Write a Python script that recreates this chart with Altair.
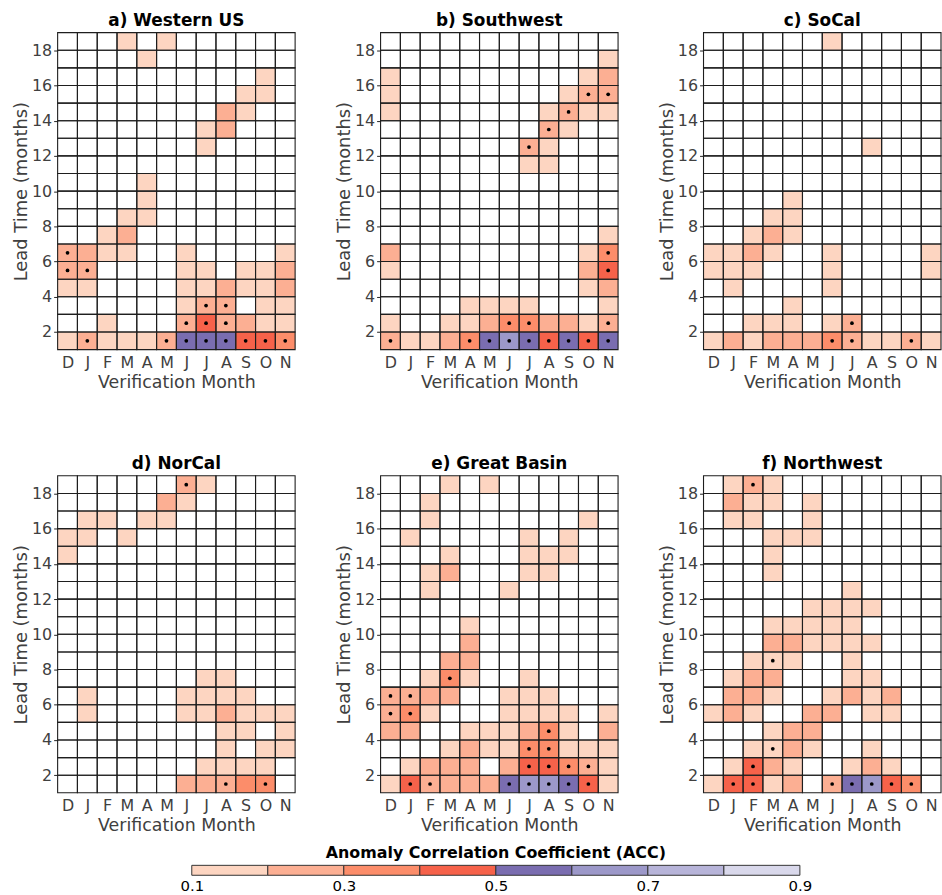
import json

import altair as alt
import pandas as pd

# Verification months (columns) and lead times (rows, listed from 18 down to 1)
MONTHS = ["D", "J", "F", "M", "A", "M", "J", "J", "A", "S", "O", "N"]
LEADS = list(range(18, 0, -1))

# ACC class of a cell: "." = below 0.1, "1".."8" = 0.1-0.2 ... 0.8-0.9
ACC_CLASS = {"1": 0.15, "2": 0.25, "3": 0.35, "4": 0.45,
             "5": 0.55, "6": 0.65, "7": 0.75, "8": 0.85}

# Colour classes of the ACC scale
ACC_BREAKS = [0.2, 0.3, 0.4, 0.5, 0.6, 0.7, 0.8]
ACC_COLORS = ["#fdd5c1", "#fcaf93", "#fc8d6a", "#f6624a",
              "#7a6db0", "#9c98c9", "#b7b4d9", "#d9d8eb"]
CBAR_LO = [0.1, 0.2, 0.3, 0.4, 0.5, 0.6, 0.7, 0.8]
CBAR_HI = [0.2, 0.3, 0.4, 0.5, 0.6, 0.7, 0.8, 0.9]
CBAR_TICKS = [0.1, 0.3, 0.5, 0.7, 0.9]

WESTERN_US = [
    "...1.1......", "....1.......", "..........1.", ".........11.",
    "........21..", ".......12...", ".......1....", "............",
    "....1.......", "....1.......", "...11.......", "..12........",
    "2211..1....1", "22....11.112", "11....112112", "......122.11",
    "..1...242211", "121112555443",
]
WESTERN_US_SIG = [(0, 6), (0, 5), (1, 5), (7, 3), (8, 3), (6, 2), (7, 2), (8, 2),
                  (1, 1), (5, 1), (6, 1), (7, 1), (8, 1), (9, 1), (10, 1), (11, 1)]

SOUTHWEST = [
    "............", "...........1", "1.........12", "1........122",
    "1.......1211", "........21..", ".......21...", ".......11...",
    "............", "............", "............", "...........1",
    "2.........13", "1.........24", "..........12", "....1111...1",
    "1..112332212", "211235654545",
]
SOUTHWEST_SIG = [(10, 15), (11, 15), (9, 14), (8, 13), (7, 12), (11, 6), (11, 5),
                 (6, 2), (7, 2), (11, 2), (0, 1), (4, 1), (5, 1), (6, 1), (7, 1),
                 (8, 1), (9, 1), (10, 1), (11, 1)]

SOCAL = [
    "......1.....", "............", "............", "............",
    "............", "............", "........1...", "............",
    "............", "....1.......", "...11.......", "..121.......",
    "1121..1....1", "111...1....1", ".1....1.....", "....1.......",
    "..111.12....", "121222321121",
]
SOCAL_SIG = [(7, 2), (6, 1), (7, 1), (10, 1)]

NORCAL = [
    "......21....", ".....21.....", ".11.11......", "11.1........",
    "1...........", "............", "............", "............",
    "............", "............", "............", ".......11...",
    ".1....1111..", ".1....112111", "........11.1", "........1.11",
    ".......1111.", "......22233.",
]
NORCAL_SIG = [(6, 18), (8, 1), (10, 1)]

GREAT_BASIN = [
    "...1.1......", "..1.........", "..1.......1.", ".1.....1.1..",
    "...1...111..", "..12...11...", "..1...1.....", "............",
    "....1.......", "....2.......", "...22.......", "..131..1....",
    "2222..111...", "231...1111.1", "22..111231.2", "...121133111",
    ".1222.244321", "142222566541",
]
GREAT_BASIN_SIG = [(3, 7), (0, 6), (1, 6), (0, 5), (1, 5), (8, 4), (7, 3), (8, 3),
                   (7, 2), (8, 2), (9, 2), (10, 2), (1, 1), (2, 1), (6, 1), (7, 1),
                   (8, 1), (9, 1), (10, 1)]

NORTHWEST = [
    ".121........", ".211.1......", ".11..1......", "...111......",
    "...1........", "...1........", ".......1....", ".....1111...",
    "...11111....", "...221111...", "..111..1....", ".122...11...",
    ".221..1212..", "121..22.11..", "...122......", "..1121..1...",
    ".1421..121..", "14412.25643.",
]
NORTHWEST_SIG = [(2, 18), (3, 8), (3, 3), (2, 2), (1, 1), (2, 1), (6, 1), (7, 1),
                 (8, 1), (9, 1), (10, 1)]

FONT = "DejaVu Sans"
TEXT_GREY = "#404040"
PANEL_W, PANEL_H = 239, 319

color_scale = alt.Scale(type="threshold", domain=ACC_BREAKS, range=ACC_COLORS)
x_scale = alt.Scale(domain=[0, 12], nice=False, zero=False)
y_scale = alt.Scale(domain=[1, 19], nice=False, zero=False)

x_axis = alt.Axis(
    values=[i + 0.5 for i in range(12)],
    labelExpr=f"{json.dumps(MONTHS)}[floor(datum.value)]",
    ticks=False, domain=False, grid=False,
    labelFont=FONT, labelFontSize=16, labelColor=TEXT_GREY, labelPadding=5,
    labelAngle=0,
    titleFont=FONT, titleFontSize=17.5, titleColor=TEXT_GREY,
    titleFontWeight="normal", titlePadding=3,
)
y_axis = alt.Axis(
    values=list(range(2, 19, 2)),
    tickSize=4, tickColor="#222222", domain=False, grid=False,
    labelFont=FONT, labelFontSize=16, labelColor=TEXT_GREY, labelPadding=2,
    titleFont=FONT, titleFontSize=18, titleColor=TEXT_GREY,
    titleFontWeight="normal", titlePadding=1,
)


def enc_x(field):
    return alt.X(f"{field}:Q", scale=x_scale, axis=x_axis, title="Verification Month")


def enc_y(field):
    return alt.Y(f"{field}:Q", scale=y_scale, axis=y_axis, title="Lead Time (months)")


def panel(title, rows, sig):
    cells = []
    for row, lead in zip(rows, LEADS):
        for m, ch in enumerate(row):
            cells.append({"m": m, "m1": m + 1, "lead": lead, "lead1": lead + 1,
                          "acc": ACC_CLASS.get(ch)})
    grid_df = pd.DataFrame(cells)
    fill_df = grid_df[grid_df["acc"].notna()]
    dot_df = pd.DataFrame([{"m": m + 0.5, "lead": lead + 0.5} for m, lead in sig])

    fill = alt.Chart(fill_df).mark_rect(strokeWidth=0).encode(
        x=enc_x("m"), x2="m1:Q", y=enc_y("lead"), y2="lead1:Q",
        color=alt.Color("acc:Q", scale=color_scale, legend=None),
    )
    grid = alt.Chart(grid_df).mark_rect(
        fillOpacity=0, stroke="#1e1e1e", strokeWidth=1.1
    ).encode(x=enc_x("m"), x2="m1:Q", y=enc_y("lead"), y2="lead1:Q")
    dots = alt.Chart(dot_df).mark_circle(size=14, color="black", opacity=1).encode(
        x=enc_x("m"), y=enc_y("lead"),
    )
    return alt.layer(fill, grid, dots).properties(
        width=PANEL_W, height=PANEL_H,
        title=alt.TitleParams(title, font=FONT, fontSize=17, fontWeight="bold",
                              color="black", offset=2),
    )


row1 = alt.hconcat(
    panel("a) Western US", WESTERN_US, WESTERN_US_SIG),
    panel("b) Southwest", SOUTHWEST, SOUTHWEST_SIG),
    panel("c) SoCal", SOCAL, SOCAL_SIG),
    spacing=39,
)
row2 = alt.hconcat(
    panel("d) NorCal", NORCAL, NORCAL_SIG),
    panel("e) Great Basin", GREAT_BASIN, GREAT_BASIN_SIG),
    panel("f) Northwest", NORTHWEST, NORTHWEST_SIG),
    spacing=39,
)

# Colour bar
cbar_df = pd.DataFrame({"lo": CBAR_LO, "hi": CBAR_HI,
                        "acc": [(a + b) / 2 for a, b in zip(CBAR_LO, CBAR_HI)]})
cbar = alt.Chart(cbar_df).mark_rect(stroke="#333333", strokeWidth=1).encode(
    x=alt.X("lo:Q", scale=alt.Scale(domain=[0.1, 0.9], nice=False, zero=False),
            axis=alt.Axis(values=CBAR_TICKS, format=".1f", ticks=False, domain=False,
                          grid=False, labelFlush=False, labelFont=FONT,
                          labelFontSize=15, labelColor="black", labelPadding=3),
            title=None),
    x2="hi:Q",
    color=alt.Color("acc:Q", scale=color_scale, legend=None),
).properties(
    width=612, height=10,
    title=alt.TitleParams("Anomaly Correlation Coefficient (ACC)", font=FONT,
                          fontSize=16, fontWeight="bold", color="black", offset=4),
)
spacer = alt.Chart(pd.DataFrame({"v": [0]})).mark_point(opacity=0).encode(
    x=alt.value(0), y=alt.value(0)
).properties(width=123, height=10)
cbar_row = alt.hconcat(spacer, cbar, spacing=0)

panels = alt.vconcat(row1, row2, spacing=64)
chart = alt.vconcat(panels, cbar_row, spacing=10).properties(
    padding={"left": 12, "top": 9, "right": 0, "bottom": 0},
    background="white",
).configure_view(stroke=None)

chart.save("out.html", embed_options={"renderer": "svg", "actions": False})
